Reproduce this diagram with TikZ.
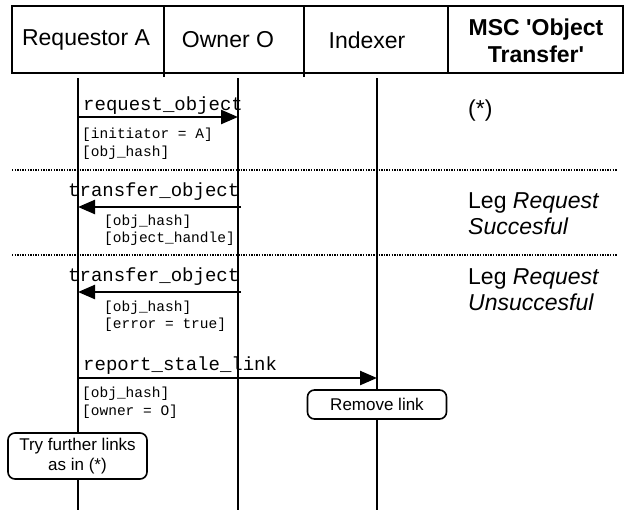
\documentclass[tikz,border=0pt]{standalone}
\usepackage{fontspec}
\setmainfont{Liberation Sans}
\setmonofont{Liberation Mono}
\usetikzlibrary{arrows.meta}
\begin{document}
\begin{tikzpicture}[x=1pt,y=-1pt,
  cell/.style={draw, line width=1.8pt, minimum height=67pt, inner sep=0pt},
  hdr/.style={font=\fontsize{23}{27}\selectfont, align=center, inner sep=0pt},
  msg/.style={font=\ttfamily\fontsize{19}{22}\selectfont, anchor=base west, inner sep=0pt},
  prm/.style={font=\ttfamily\fontsize{14.5}{18}\selectfont, anchor=base west, inner sep=0pt},
  lifeline/.style={line width=2.6pt},
  msgarrow/.style={line width=2.4pt, -{Triangle[length=17pt,width=14pt]}},
  sepline/.style={line width=1.3pt, dash pattern=on 1.3pt off 1.3pt},
  action/.style={draw, fill=white, line width=1.6pt, rounded corners=7pt, font=\fontsize{17}{20}\selectfont, align=center, minimum width=139pt, inner sep=2pt},
  note/.style={font=\fontsize{23}{27}\selectfont, anchor=base west, inner sep=0pt}
]
\useasboundingbox (0,0) rectangle (628,512);

% header cells
\node[cell, minimum width=152pt] (cA) at (88,39.5) {};
\node[cell, minimum width=140pt] (cO) at (234,39.5) {};
\node[cell, minimum width=144pt] (cI) at (376,39.5) {};
\node[cell, minimum width=175pt] (cM) at (535.5,39.5) {};
\node[hdr] (tA) at (86,40) {Requestor A};
\node[hdr] (tO) at (228,40) {Owner O};
\node[hdr] (tI) at (367,40) {Indexer};
\node[hdr, font=\bfseries\fontsize{23}{27}\selectfont] (tM) at (536,41) {MSC \textquotesingle Object\\Transfer\textquotesingle};
% small divider stubs
\coordinate (s1a) at (164,73); \coordinate (s1b) at (164,77);
\coordinate (s2a) at (304,73); \coordinate (s2b) at (304,77);
\draw[line width=1.5pt] (s1a) -- (s1b) (s2a) -- (s2b);

% lifelines
\coordinate (A0) at (78,78);  \coordinate (A1) at (78,510);
\coordinate (O0) at (238,78); \coordinate (O1) at (238,510);
\coordinate (I0) at (377,78); \coordinate (I1) at (377,510);
\draw[lifeline] (A0) -- (A1);
\draw[lifeline] (O0) -- (O1);
\draw[lifeline] (I0) -- (I1);

% separators
\coordinate (d1a) at (12,170);  \coordinate (d1b) at (617,170);
\coordinate (d2a) at (12,255);  \coordinate (d2b) at (617,255);
\draw[sepline] (d1a) -- (d1b);
\draw[sepline] (d2a) -- (d2b);

% message 1
\coordinate (m1a) at (78,117); \coordinate (m1b) at (238,117);
\draw[msgarrow] (m1a) -- (m1b);
\node[msg] (l1) at (83,110) {request\_object};
\node[prm] (p1a) at (82,138) {[initiator = A]};
\node[prm] (p1b) at (82,156) {[obj\_hash]};

% message 2
\coordinate (m2a) at (241,207); \coordinate (m2b) at (78,207);
\draw[msgarrow] (m2a) -- (m2b);
\node[msg] (l2) at (68,196) {transfer\_object};
\node[prm] (p2a) at (104,225) {[obj\_hash]};
\node[prm] (p2b) at (104,242) {[object\_handle]};

% message 3
\coordinate (m3a) at (241,292); \coordinate (m3b) at (78,292);
\draw[msgarrow] (m3a) -- (m3b);
\node[msg] (l3) at (68,281) {transfer\_object};
\node[prm] (p3a) at (104,311) {[obj\_hash]};
\node[prm] (p3b) at (104,328) {[error = true]};

% message 4
\coordinate (m4a) at (78,378); \coordinate (m4b) at (377,378);
\draw[msgarrow] (m4a) -- (m4b);
\node[msg] (l4) at (83,370) {report\_stale\_link};
\node[prm] (p4a) at (82,397) {[obj\_hash]};
\node[prm] (p4b) at (82,415) {[owner = O]};

% actions
\node[action, minimum height=29pt] (rm) at (377,404.5) {Remove link};
\node[action, minimum height=46pt] (tf) at (77.5,456) {Try further links\\as in (*)};

% right column notes
\node[note] (n0) at (468,116) {(*)};
\node[note] (n1) at (468,208) {Leg \textit{Request}};
\node[note] (n2) at (468,234) {\textit{Succesful}};
\node[note] (n3) at (468,284) {Leg \textit{Request}};
\node[note] (n4) at (468,310) {\textit{Unsuccesful}};
\end{tikzpicture}
\end{document}
